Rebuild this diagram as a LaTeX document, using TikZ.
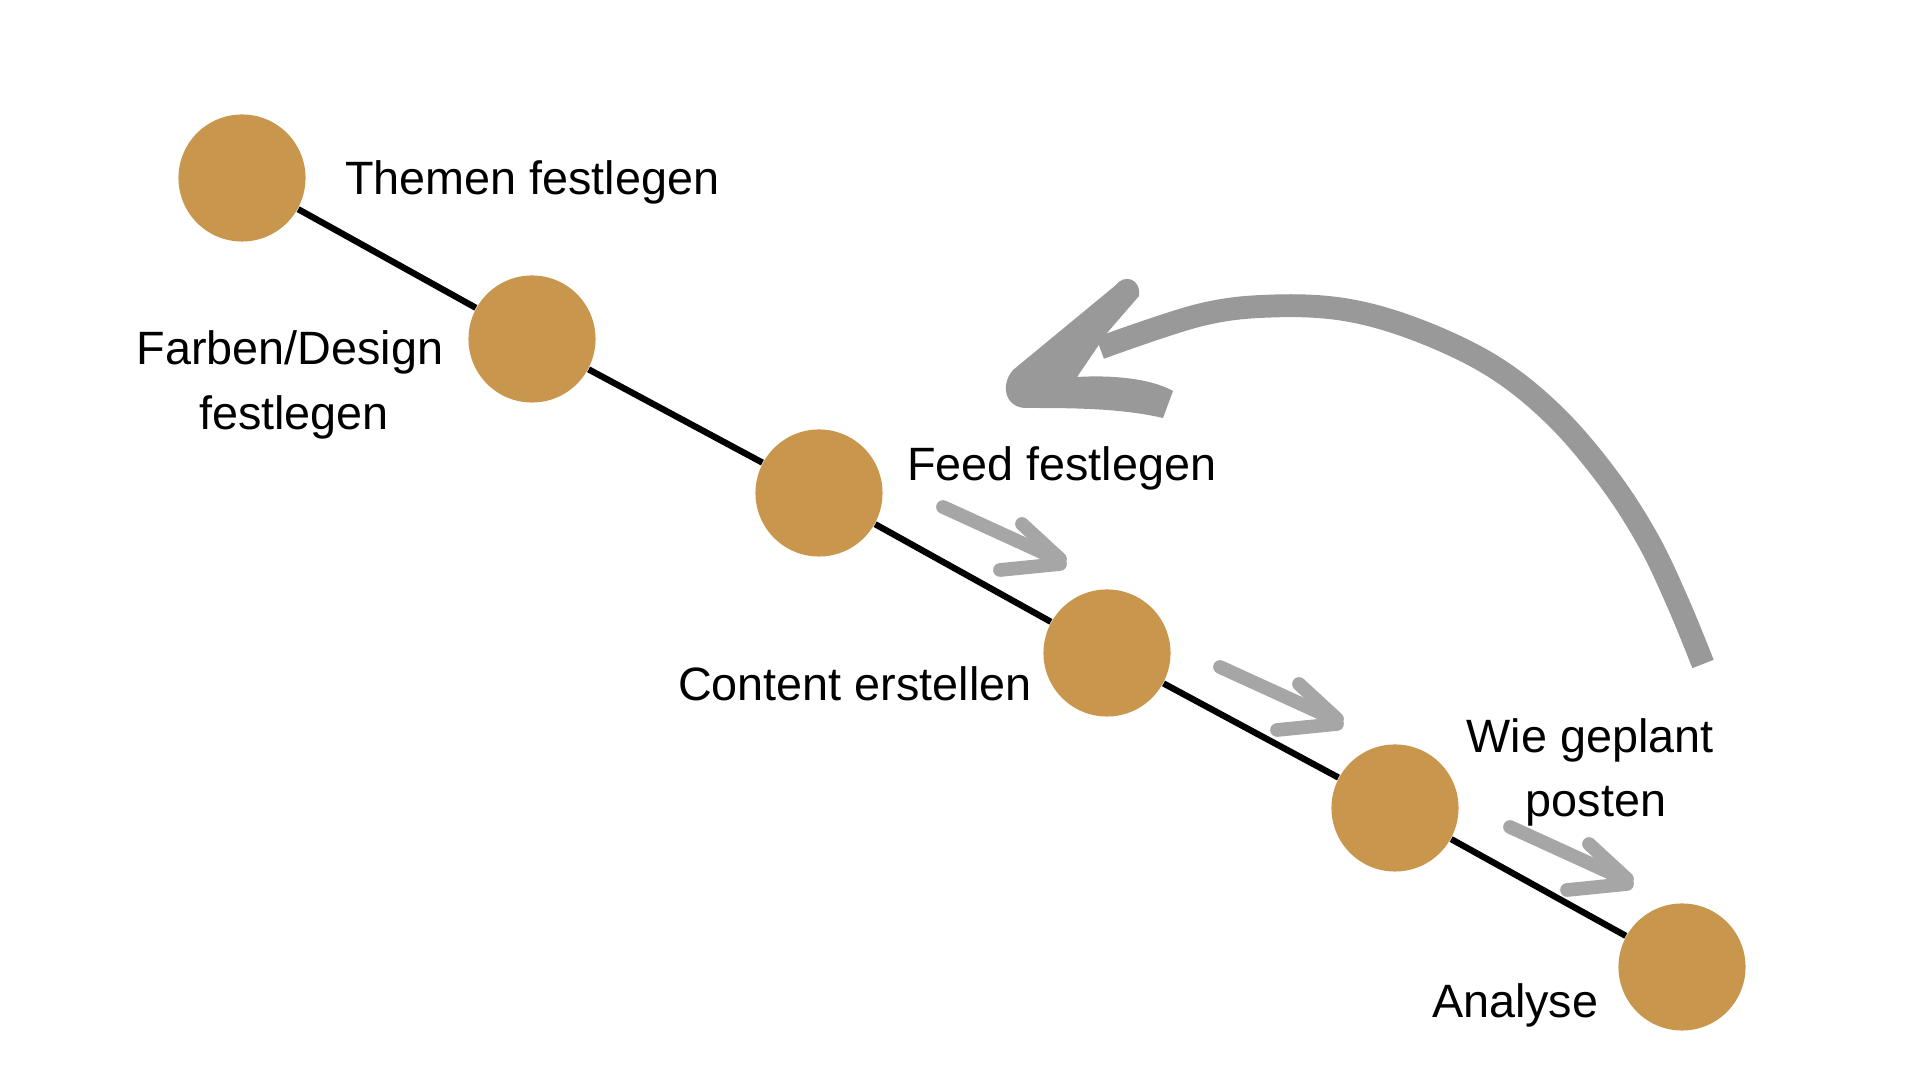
\documentclass[tikz,border=0pt]{standalone}
\usepackage{fontspec}
\setmainfont{Liberation Sans}
\definecolor{dotgold}{RGB}{201,150,77}
\definecolor{biggray}{RGB}{153,153,153}
\definecolor{smallgray}{RGB}{166,166,166}
\tikzset{
  dot/.style={circle, fill=dotgold, draw=none, minimum size=1.27cm, inner sep=0pt},
  conn/.style={draw=black, line width=1.8pt},
  lbl/.style={inner sep=0pt, outer sep=0pt, font=\fontsize{13.3pt}{18.5pt}\selectfont, text=black},
  bigstroke/.style={draw=biggray, line width=6.5pt, line cap=butt, line join=round},
  smallstroke/.style={draw=smallgray, line width=3.9pt, line cap=round, line join=round},
  smallarrow/.pic={
    \draw[smallstroke] (-122,-55) -- (-6,-2);
    \draw[smallstroke] (-43,-38) -- (-5,-3);
    \draw[smallstroke] (-65,8) -- (-5,2);
  }
}
\begin{document}
\begin{tikzpicture}[x=0.01cm, y=-0.01cm]
  \useasboundingbox (0,0) rectangle (1920,1080);
  \fill[white] (0,0) rectangle (1920,1080);

  % circles
  \node[dot] (c1) at (242,178) {};
  \node[dot] (c2) at (532,339) {};
  \node[dot] (c3) at (819,493) {};
  \node[dot] (c4) at (1107,653) {};
  \node[dot] (c5) at (1395,808) {};
  \node[dot] (c6) at (1682,967) {};

  % connectors
  \draw[conn] (c1) -- (c2);
  \draw[conn] (c2) -- (c3);
  \draw[conn] (c3) -- (c4);
  \draw[conn] (c4) -- (c5);
  \draw[conn] (c5) -- (c6);

  % labels
  \node[lbl, anchor=base west] (t1) at (345,195) {Themen festlegen};
  \node[lbl, anchor=base] (t2a) at (290,365) {Farben/Design};
  \node[lbl, anchor=base] (t2b) at (294,430) {festlegen};
  \node[lbl, anchor=base west] (t3) at (907,481) {Feed festlegen};
  \node[lbl, anchor=base west] (t4) at (678,701) {Content erstellen};
  \node[lbl, anchor=base] (t5a) at (1590,753) {Wie geplant};
  \node[lbl, anchor=base] (t5b) at (1596,817) {posten};
  \node[lbl, anchor=base west] (t6) at (1432,1018) {Analyse};

  % small arrows
  \pic at (1065,562) {smallarrow};
  \pic at (1342,722) {smallarrow};
  \pic at (1632,882) {smallarrow};

  % big curved arrow: shaft
  \draw[bigstroke] plot[smooth, tension=0.6] coordinates {(1703,664) (1678,603) (1648,540) (1608,478) (1555,416) (1494,367) (1420,331) (1347,310) (1273,306) (1200,315) (1100,348)};
  % big curved arrow: head
  \fill[biggray] (1116,285) .. controls (1124,274) and (1141,278) .. (1139,296)
    -- (1107,333) -- (1077,377)
    .. controls (1110,375) and (1150,378) .. (1173,391)
    -- (1163,418)
    .. controls (1120,408) and (1070,408) .. (1025,408)
    .. controls (1005,407) and (1000,385) .. (1013,370)
    -- cycle;
\end{tikzpicture}
\end{document}
